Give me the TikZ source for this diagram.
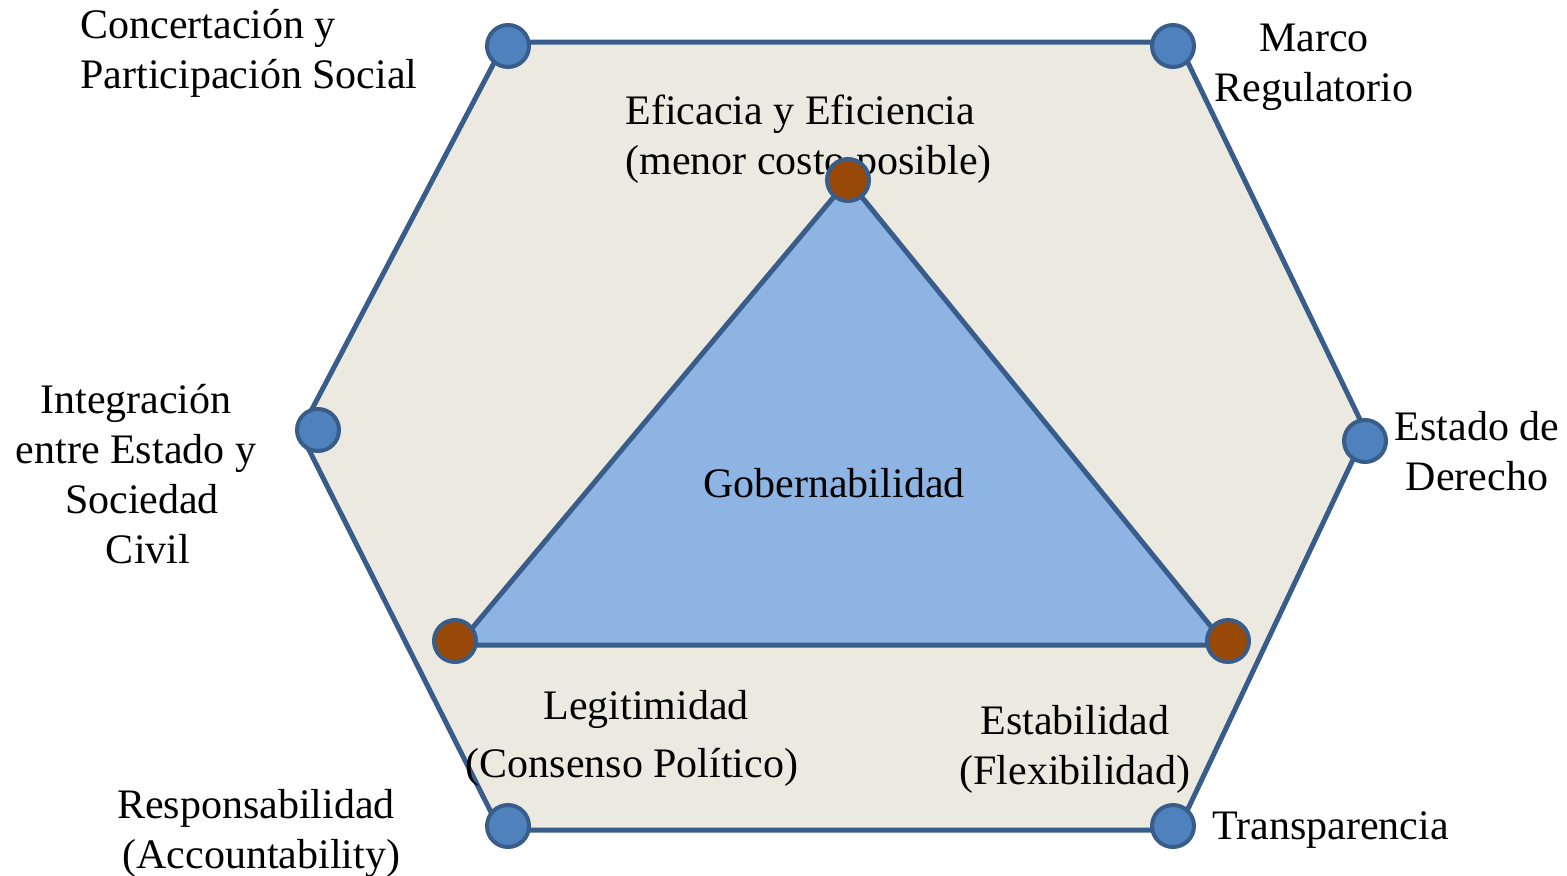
\documentclass[tikz,border=0pt]{standalone}
\usepackage{fontspec}
\setmainfont{Liberation Serif}
\definecolor{hexfill}{HTML}{ECEAE0}
\definecolor{edge}{HTML}{385D8A}
\definecolor{trifill}{HTML}{8EB4E3}
\definecolor{dotblue}{HTML}{4F81BD}
\definecolor{dotbrown}{HTML}{984807}
\begin{document}
\begin{tikzpicture}[x=0.5bp,y=-0.5bp,
  every node/.style={font=\fontsize{21bp}{25bp}\selectfont, inner sep=0pt},
  outerdot/.style={circle, minimum size=21bp, fill=dotblue, draw=edge, line width=2bp},
  innerdot/.style={circle, minimum size=21bp, fill=dotbrown, draw=edge, line width=2bp},
  label/.style={align=center}]
\useasboundingbox (0,0) rectangle (1567,875);
% hexagon corners
\coordinate (h1) at (505,42);
\coordinate (h2) at (1178,42);
\coordinate (h3) at (1366,432);
\coordinate (h4) at (1178,830);
\coordinate (h5) at (500,830);
\coordinate (h6) at (300,432);
\draw[fill=hexfill, draw=edge, line width=2.5bp, line join=round]
  (h1) -- (h2) -- (h3) -- (h4) -- (h5) -- (h6) -- cycle;
% triangle
\coordinate (t1) at (848,180);
\coordinate (t2) at (458,645);
\coordinate (t3) at (1226,645);
\draw[fill=trifill, draw=edge, line width=2.5bp, line join=round]
  (t1) -- (t2) -- (t3) -- cycle;
% dots
\node[outerdot] (d1) at (508,46) {};
\node[outerdot] (d2) at (1173,46) {};
\node[outerdot] (d3) at (1365,441) {};
\node[outerdot] (d4) at (1173,826) {};
\node[outerdot] (d5) at (508,826) {};
\node[outerdot] (d6) at (318,430) {};
% labels
\node[align=left, anchor=west] (lc) at (80,53) {Concertación y\\Participación Social};
\node[label] (lm) at (1314,67) {Marco\\Regulatorio};
\node[label] (le) at (1477,451) {Estado de\\Derecho};
\node[anchor=west] (lt) at (1212,830) {Transparencia};
\node[label] (lr) at (256,833) {Responsabilidad\\\ (Accountability)};
\node[label] (li) at (136,474) {Integración\\entre Estado y\hspace*{4bp}\\\hspace*{6bp}Sociedad\\\hspace*{12bp}Civil};
\node[label] (lg) at (834,483) {Gobernabilidad};
\node[label] (ll) at (632,738) {\hspace*{14bp}Legitimidad\\[4bp](Consenso Político)};
\node[label] (ls) at (1075,749) {Estabilidad\\(Flexibilidad)};
\node[align=left, anchor=west] (lf) at (625,139) {Eficacia y Eficiencia\\(menor costo posible)};
% inner dots (drawn over text as in reference)
\node[innerdot] (e1) at (848,180) {};
\node[innerdot] (e2) at (455,641) {};
\node[innerdot] (e3) at (1228,641) {};
\end{tikzpicture}
\end{document}
